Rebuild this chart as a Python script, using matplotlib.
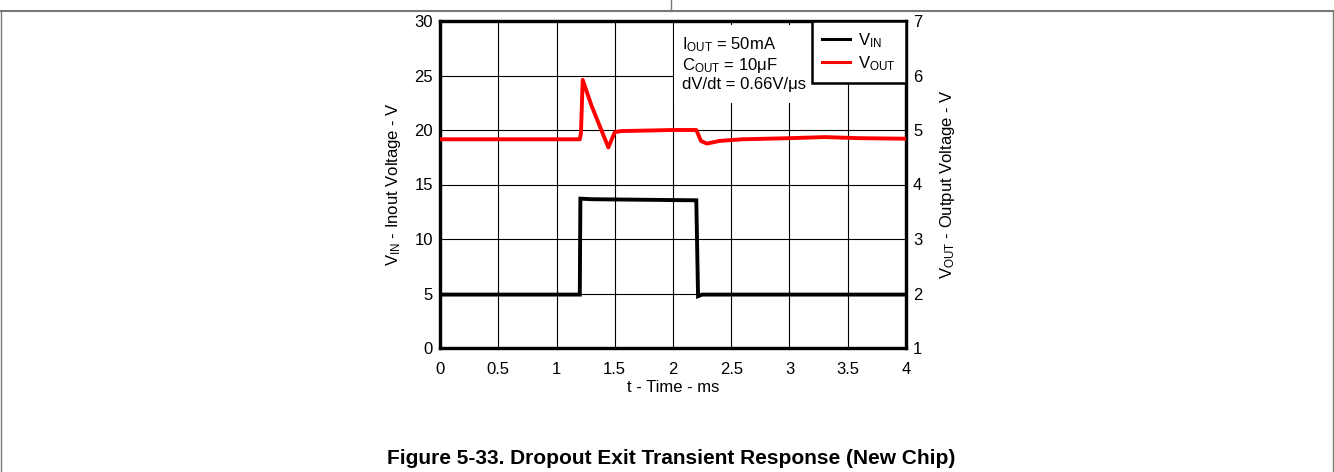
import matplotlib
matplotlib.use('Agg')
import matplotlib.pyplot as plt
from matplotlib.lines import Line2D
from matplotlib.patches import Rectangle

plt.rcParams['font.family'] = ['Liberation Sans', 'DejaVu Sans']
plt.rcParams['mathtext.fontset'] = 'custom'
plt.rcParams['mathtext.rm'] = 'Liberation Sans'
plt.rcParams['mathtext.it'] = 'Liberation Sans'
plt.rcParams['mathtext.default'] = 'regular'

# ---- Data ----
t_vin = [0, 1.2, 1.205, 1.3, 2.2, 2.215, 2.25, 4.0]
vin = [4.9, 4.9, 13.7, 13.65, 13.55, 4.75, 4.9, 4.9]

t_vout = [0, 1.2, 1.21, 1.225, 1.3, 1.445, 1.5, 1.55, 2.0, 2.2, 2.24,
          2.29, 2.4, 2.6, 3.0, 3.3, 3.6, 4.0]
vout = [4.83, 4.83, 4.95, 5.92, 5.45, 4.68, 4.96, 4.98, 5.0, 5.0, 4.8,
        4.75, 4.8, 4.83, 4.85, 4.87, 4.85, 4.84]

x_ticks = [0, 0.5, 1, 1.5, 2, 2.5, 3, 3.5, 4]
x_ticklabels = ['0', '0.5', '1', '1.5', '2', '2.5', '3', '3.5', '4']
left_ticks = [0, 5, 10, 15, 20, 25, 30]
right_ticks = [1, 2, 3, 4, 5, 6, 7]

FS = 12

fig = plt.figure(figsize=(13.34, 4.72), dpi=100)
ax = fig.add_axes([440 / 1334, 1 - 348 / 472, 466 / 1334, 327 / 472])
ax2 = ax.twinx()

ax.plot(t_vin, vin, color='black', lw=2.8, solid_joinstyle='miter', zorder=3)
ax2.plot(t_vout, vout, color='#ff0000', lw=2.8, zorder=3)

ax.set_xlim(0, 4)
ax.set_ylim(0, 30)
ax2.set_ylim(1, 7)
ax.set_xticks(x_ticks)
ax.set_xticklabels(x_ticklabels)
ax.set_yticks(left_ticks)
ax2.set_yticks(right_ticks)
ax.grid(True, color='black', lw=0.8)
ax.tick_params(axis='x', length=0, labelsize=FS, pad=10)
ax.tick_params(axis='y', length=0, labelsize=FS, pad=5)
ax2.tick_params(length=0, labelsize=FS, pad=5)
for a in (ax, ax2):
    for s in a.spines.values():
        s.set_linewidth(2.3)

ax.set_xlabel('t - Time - ms', fontsize=FS, labelpad=2)
ax.set_ylabel('$V_{IN}$ - Inout Voltage - V', fontsize=FS, labelpad=8)
ax2.set_ylabel('$V_{OUT}$ - Output Voltage - V', fontsize=FS, labelpad=11)

# ---- Conditions box ----
ax.add_patch(Rectangle((2.01, 22.5), 1.22, 7.1, facecolor='white',
                       edgecolor='none', zorder=2))
ax.text(2.075, 28.7,
        '$I_{OUT}$ = 50mA\n$C_{OUT}$ = 10\u03bcF\ndV/dt = 0.66V/\u03bcs',
        fontsize=FS, va='top', ha='left', linespacing=1.15, zorder=5)

# ---- Legend ----
handles = [Line2D([], [], color='black', lw=2.2),
           Line2D([], [], color='#ff0000', lw=2.2)]
leg = ax2.legend(handles, ['$V_{IN}$', '$V_{OUT}$'], loc='upper right',
                 fontsize=FS, frameon=True, fancybox=False, framealpha=1,
                 borderaxespad=0, handlelength=1.7, handletextpad=0.5,
                 borderpad=0.6, labelspacing=0.25)
leg.get_frame().set_edgecolor('black')
leg.get_frame().set_linewidth(1.8)

# ---- Page frame lines ----
fig.add_artist(Line2D([0, 1], [1 - 11 / 472] * 2, color='#777777', lw=1.5))
fig.add_artist(Line2D([671 / 1334] * 2, [1 - 11 / 472, 1], color='#777777', lw=1.0))
fig.add_artist(Line2D([0.0008] * 2, [0, 1 - 11 / 472], color='#777777', lw=1.0))
fig.add_artist(Line2D([0.9992] * 2, [0, 1 - 11 / 472], color='#777777', lw=1.0))

fig.text(671 / 1334, 1 - 458 / 472,
         'Figure 5-33. Dropout Exit Transient Response (New Chip)',
         fontsize=15, fontweight='bold', ha='center', va='center')

fig.savefig('out.png', dpi=100, facecolor='white')
